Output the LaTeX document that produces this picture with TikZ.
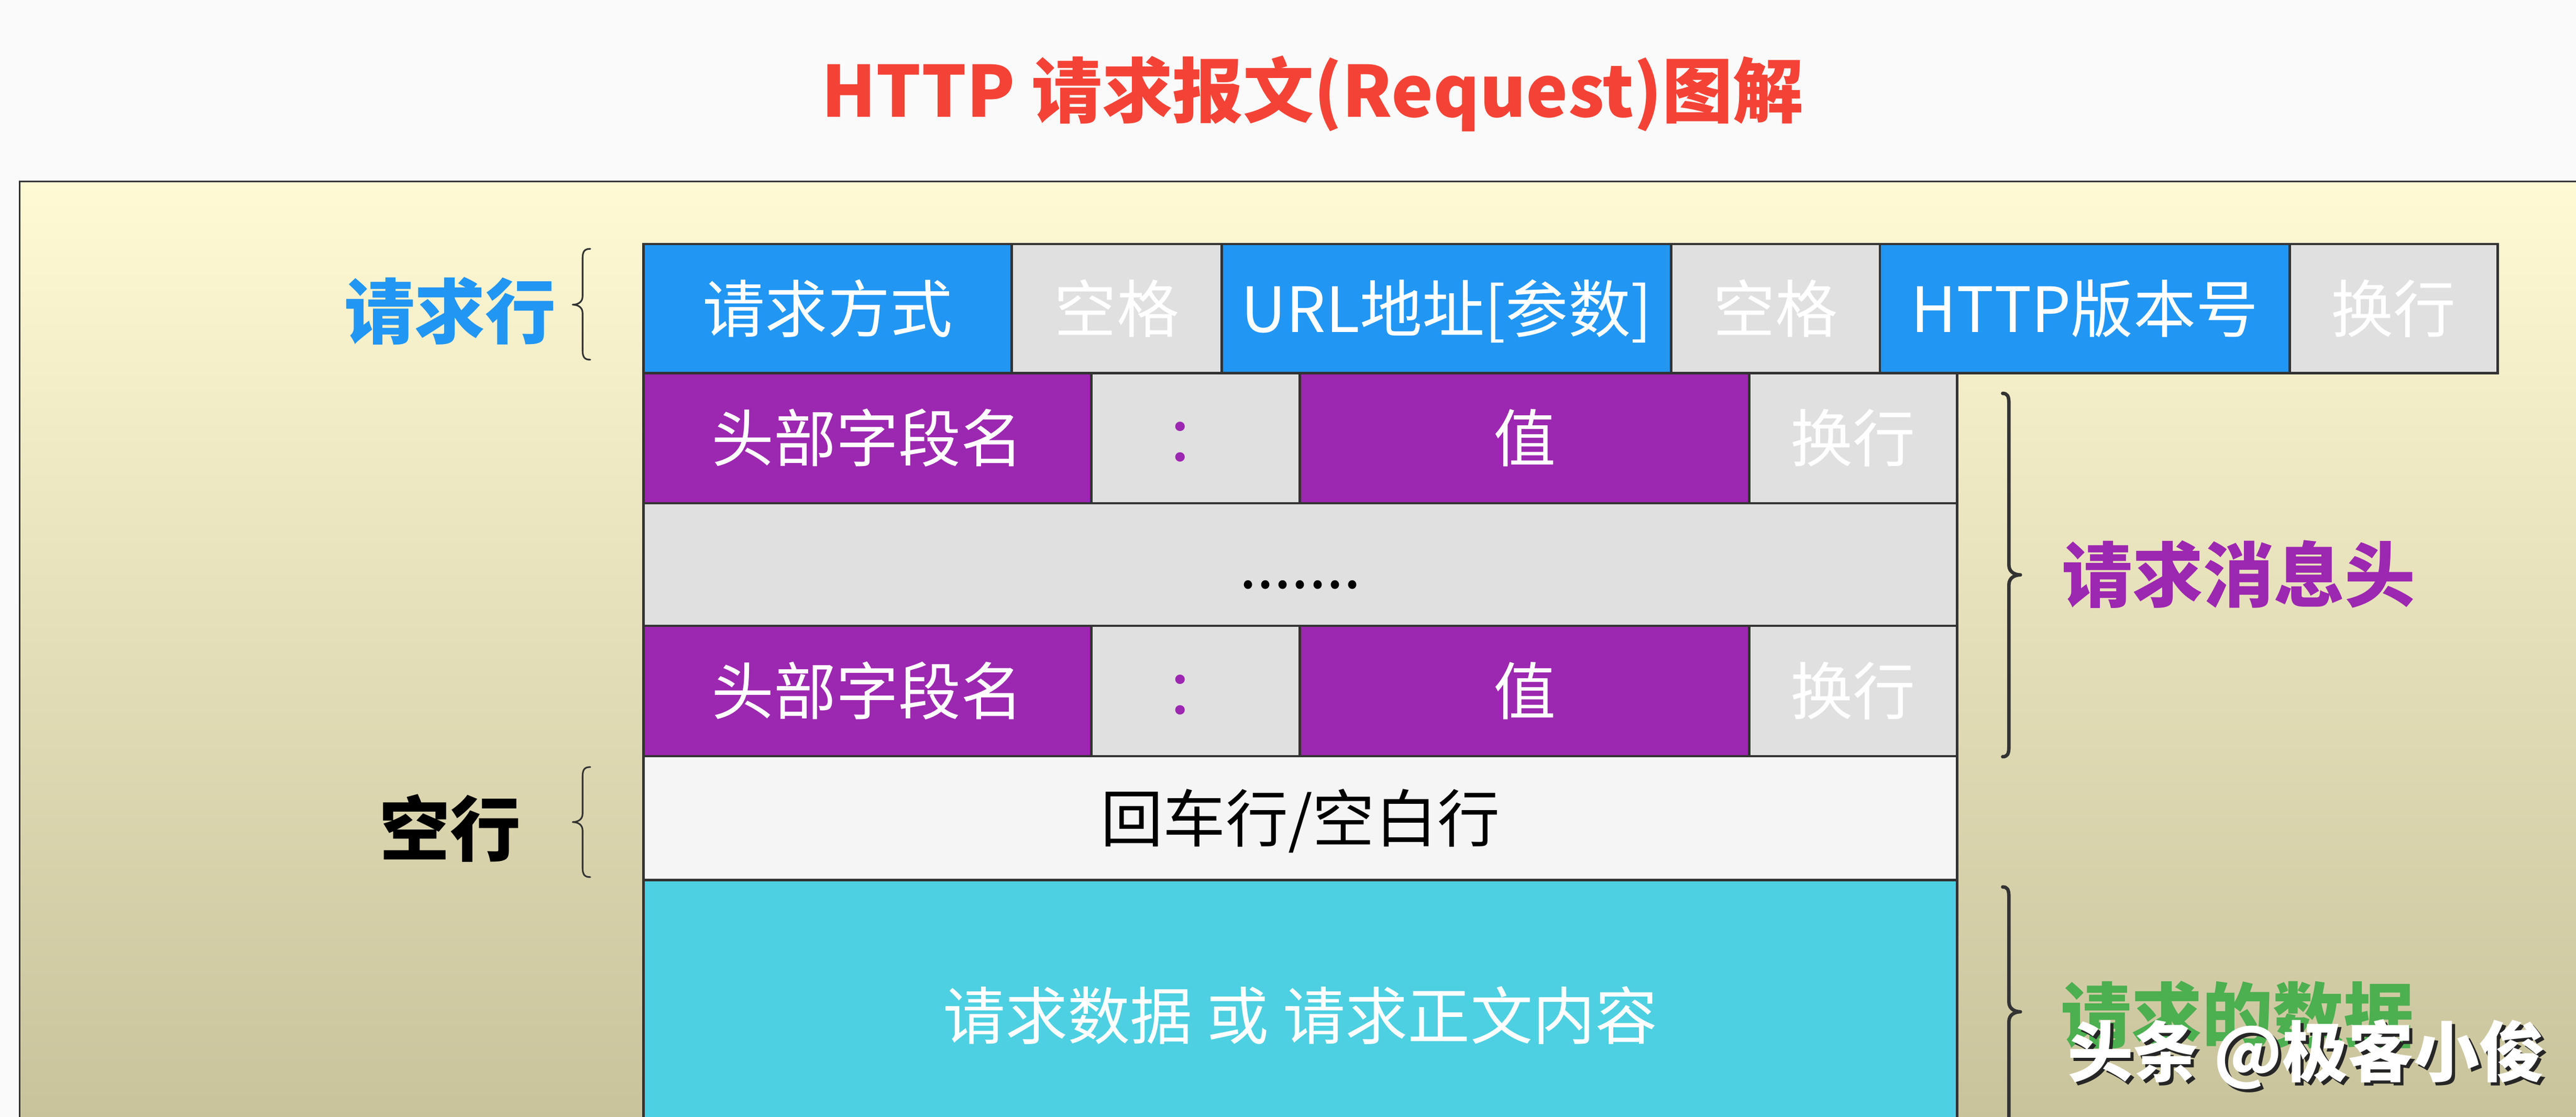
\documentclass[tikz,border=0pt]{standalone}
\usepackage{fontspec}
\setmainfont{Noto Sans CJK SC}
\definecolor{bgcol}{HTML}{FAFAFA}
\definecolor{boxtop}{HTML}{FFF9D4}
\definecolor{boxbot}{HTML}{C9C39C}
\definecolor{linecol}{HTML}{333333}
\definecolor{bluec}{HTML}{2196F3}
\definecolor{grayc}{HTML}{E0E0E0}
\definecolor{purplec}{HTML}{9C27B0}
\definecolor{whitec}{HTML}{F5F5F5}
\definecolor{cyanc}{HTML}{4DD0E1}
\definecolor{redc}{HTML}{F44336}
\definecolor{greenc}{HTML}{4CAF50}
\tikzset{
  cell/.style={draw=linecol, line width=1.5pt, anchor=north west, inner sep=0pt,
    text height=33.4pt, text depth=4.6pt, font=\fontsize{38pt}{44pt}\selectfont, text=white},
  lbl/.style={font=\fontsize{43pt}{50pt}\selectfont\bfseries, inner sep=0pt,
    text height=37.8pt, text depth=5.2pt},
  brace/.style={draw=linecol, line cap=round, line join=round},
}
\newcommand\BraceL[5]{%
  \draw[brace, line width=1pt] (#1,#3) .. controls ({#1-3.5},#3) and ({#1-4.7},{#3+1.5}) .. ({#1-4.7},{#3+6})
   -- ({#1-4.7},{#4-5}) .. controls ({#1-4.7},{#4-1.5}) and ({#2+3},#4) .. (#2,#4)
   .. controls ({#2+3},#4) and ({#1-4.7},{#4+1.5}) .. ({#1-4.7},{#4+5})
   -- ({#1-4.7},{#5-6}) .. controls ({#1-4.7},{#5-1.5}) and ({#1-3.5},#5) .. (#1,#5);}
\newcommand\BraceR[5]{%
  \draw[brace, line width=2.1pt] (#1,#3) .. controls ({#1+2.8},#3) and ({#1+3.8},{#3+1.5}) .. ({#1+3.8},{#3+6})
   -- ({#1+3.8},{#4-6}) .. controls ({#1+3.8},{#4-1.5}) and ({#2-3},#4) .. (#2,#4)
   .. controls ({#2-3},#4) and ({#1+3.8},{#4+1.5}) .. ({#1+3.8},{#4+6})
   -- ({#1+3.8},{#5-6}) .. controls ({#1+3.8},{#5-1.5}) and ({#1+2.8},#5) .. (#1,#5);}
\newcommand\WMtext{头条 @极客小俊}
\begin{document}
\begin{tikzpicture}[x=1pt,y=-1pt]
\useasboundingbox (0,0) rectangle (1568,680);
\clip (0,0) rectangle (1568,680);
\fill[bgcol] (0,0) rectangle (1568,680);
\shade[top color=boxtop, bottom color=boxbot] (12,110.6) rectangle (1570,682);
\draw[linecol, line width=1pt] (12,700) -- (12,110.6) -- (1590,110.6);

% title
\node[font=\fontsize{43pt}{50pt}\selectfont\bfseries, text=redc, inner sep=0pt,
      text height=37.8pt, text depth=5.2pt] (title) at (799,55) {HTTP 请求报文(Request)图解};

% request line
\node[cell, fill=bluec, minimum width=224pt, minimum height=78.7pt] (m1) at (391,147.8) {请求方式};
\node[cell, fill=grayc, minimum width=128pt, minimum height=78.7pt] (m2) at (615,147.8) {空格};
\node[cell, fill=bluec, minimum width=273.5pt, minimum height=78.7pt] (m3) at (743,147.8) {URL地址[参数]};
\node[cell, fill=grayc, minimum width=127pt, minimum height=78.7pt] (m4) at (1016.5,147.8) {空格};
\node[cell, fill=bluec, minimum width=249.5pt, minimum height=78.7pt] (m5) at (1143.5,147.8) {HTTP版本号};
\node[cell, fill=grayc, minimum width=126.5pt, minimum height=78.7pt] (m6) at (1393,147.8) {换行};

% header line 1
\node[cell, fill=purplec, minimum width=272.5pt, minimum height=79.1pt] (ha1) at (391,226.5) {头部字段名};
\node[cell, fill=grayc, text=purplec, minimum width=127pt, minimum height=79.1pt] (ha2) at (663.5,226.5) {：};
\node[cell, fill=purplec, minimum width=273.5pt, minimum height=79.1pt] (ha3) at (790.5,226.5) {值};
\node[cell, fill=grayc, minimum width=126.5pt, minimum height=79.1pt] (ha4) at (1064,226.5) {换行};

% dots line
\node[cell, fill=grayc, text=black, minimum width=799.5pt, minimum height=74.6pt] (dots) at (391,305.6) {.......};

% header line 2
\node[cell, fill=purplec, minimum width=272.5pt, minimum height=79.4pt] (hb1) at (391,380.2) {头部字段名};
\node[cell, fill=grayc, text=purplec, minimum width=127pt, minimum height=79.4pt] (hb2) at (663.5,380.2) {：};
\node[cell, fill=purplec, minimum width=273.5pt, minimum height=79.4pt] (hb3) at (790.5,380.2) {值};
\node[cell, fill=grayc, minimum width=126.5pt, minimum height=79.4pt] (hb4) at (1064,380.2) {换行};

% blank line
\node[cell, fill=whitec, text=black, minimum width=799.5pt, minimum height=75.4pt] (blank) at (391,459.6) {回车行/空白行};

% body
\node[cell, fill=cyanc, minimum width=799.5pt, minimum height=165pt] (body) at (391,535) {请求数据 或 请求正文内容};

% left labels and braces
\node[lbl, text=bluec] (l1) at (274,189.5) {请求行};
\BraceL{359.3}{348.6}{151.5}{185.5}{219}
\node[lbl, text=black] (l2) at (274,504.5) {空行};
\BraceL{359.3}{348.6}{467}{500.5}{534}

% right labels and braces
\BraceR{1219}{1229.8}{239.5}{350}{460.7}
\node[lbl, text=purplec] (l3) at (1362.7,350) {请求消息头};
\BraceR{1219}{1229.8}{540}{616}{692}
\node[lbl, text=greenc] (l4) at (1362,618) {请求的数据};

% watermark (white text with dark shadow)
\node[font=\fontsize{40pt}{44pt}\selectfont\bfseries, text=white, inner sep=0pt,
      text height=35.2pt, text depth=4.8pt] (wm) at (1403.8,640)
  {\makebox[0pt][l]{\hspace{2pt}\raisebox{-2pt}{\textcolor{black!85}{\WMtext}}}\WMtext};
\end{tikzpicture}
\end{document}
